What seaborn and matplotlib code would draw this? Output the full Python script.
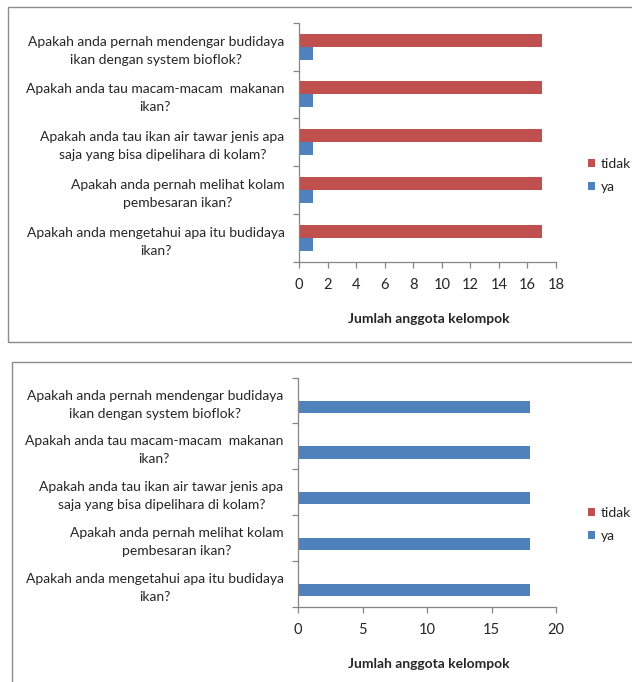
import matplotlib
matplotlib.use("Agg")
import matplotlib.pyplot as plt
import seaborn as sns
import pandas as pd
from matplotlib.patches import Rectangle

# ---- data ----
questions = [
    "Apakah anda pernah mendengar budidaya\nikan dengan system bioflok?",
    "Apakah anda tau macam-macam  makanan\nikan?",
    "Apakah anda tau ikan air tawar jenis apa\nsaja yang bisa dipelihara di kolam?",
    "Apakah anda pernah melihat kolam\npembesaran ikan?",
    "Apakah anda mengetahui apa itu budidaya\nikan?",
]
answers = ["tidak", "ya"]
top_tidak = [17, 17, 17, 17, 17]
top_ya = [1, 1, 1, 1, 1]
bottom_tidak = [0, 0, 0, 0, 0]
bottom_ya = [18, 18, 18, 18, 18]
top_ticks = [0, 2, 4, 6, 8, 10, 12, 14, 16, 18]
bottom_ticks = [0, 5, 10, 15, 20]
x_title = "Jumlah anggota kelompok"
palette = {"tidak": "#C0504D", "ya": "#4F81BD"}

sns.set_style("white")
plt.rcParams["font.family"] = ["Lato", "DejaVu Sans"]
plt.rcParams["text.color"] = "#222222"

FS = 10
GRAY = "#868686"

fig = plt.figure(figsize=(6.32, 6.82), dpi=100)

# chart frames
fig.patches.append(Rectangle((8 / 632, 1 - 342 / 682), 1.2, (342 - 7) / 682,
                             transform=fig.transFigure, fill=False,
                             edgecolor="#8c8c8c", linewidth=1.0))
fig.patches.append(Rectangle((12 / 632, -0.05), 1.2, (1 - 362 / 682) + 0.05,
                             transform=fig.transFigure, fill=False,
                             edgecolor="#8c8c8c", linewidth=1.0))

ax_top = fig.add_axes([299 / 632, 1 - 261.7 / 682, 257 / 632, 239 / 682])
ax_bot = fig.add_axes([298 / 632, 1 - 606.5 / 682, 258 / 632, 228.8 / 682])


def draw(ax, tidak, ya, ticks, xlab_y, leg_y):
    df = pd.DataFrame({
        "pertanyaan": questions * 2,
        "jawaban": ["tidak"] * len(questions) + ["ya"] * len(questions),
        "jumlah": tidak + ya,
    })
    sns.barplot(data=df, y="pertanyaan", x="jumlah", hue="jawaban",
                hue_order=answers, order=questions, palette=palette,
                orient="h", width=0.54, gap=0, saturation=1,
                errorbar=None, linewidth=0, ax=ax)
    ax.set_xlim(ticks[0], ticks[-1])
    ax.set_xticks(ticks)
    ax.set_ylim(len(questions) - 0.5, -0.5)
    for s in ["top", "right"]:
        ax.spines[s].set_visible(False)
    for s in ["left", "bottom"]:
        ax.spines[s].set_color(GRAY)
        ax.spines[s].set_linewidth(0.9)
    ax.tick_params(axis="y", which="major", length=0, pad=10.5, labelsize=FS)
    ax.set_yticks([i - 0.5 for i in range(len(questions) + 1)], minor=True)
    ax.tick_params(axis="y", which="minor", length=4, color=GRAY, width=0.9,
                   direction="out", left=True)
    ax.tick_params(axis="x", length=4, color=GRAY, width=0.9, direction="out",
                   pad=8, labelsize=FS + 0.5, bottom=True)
    for lab in ax.get_yticklabels():
        lab.set_multialignment("center")
        lab.set_linespacing(1.6)
    ax.set_ylabel("")
    ax.set_xlabel(x_title, fontsize=FS, fontweight="bold")
    ax.xaxis.label.set_va("center")
    ax.xaxis.set_label_coords(0.506, xlab_y)
    sns.move_legend(ax, "center left", bbox_to_anchor=(1.124, leg_y),
                    frameon=False, title=None, handlelength=0.5,
                    handleheight=0.5, handletextpad=0.45, labelspacing=0.8,
                    borderpad=0, borderaxespad=0, fontsize=FS)


draw(ax_top, top_tidak, top_ya, top_ticks, -0.24, 0.36)
draw(ax_bot, bottom_tidak, bottom_ya, bottom_ticks, -0.25, 0.36)

fig.savefig("out.png", dpi=100, facecolor="white")
